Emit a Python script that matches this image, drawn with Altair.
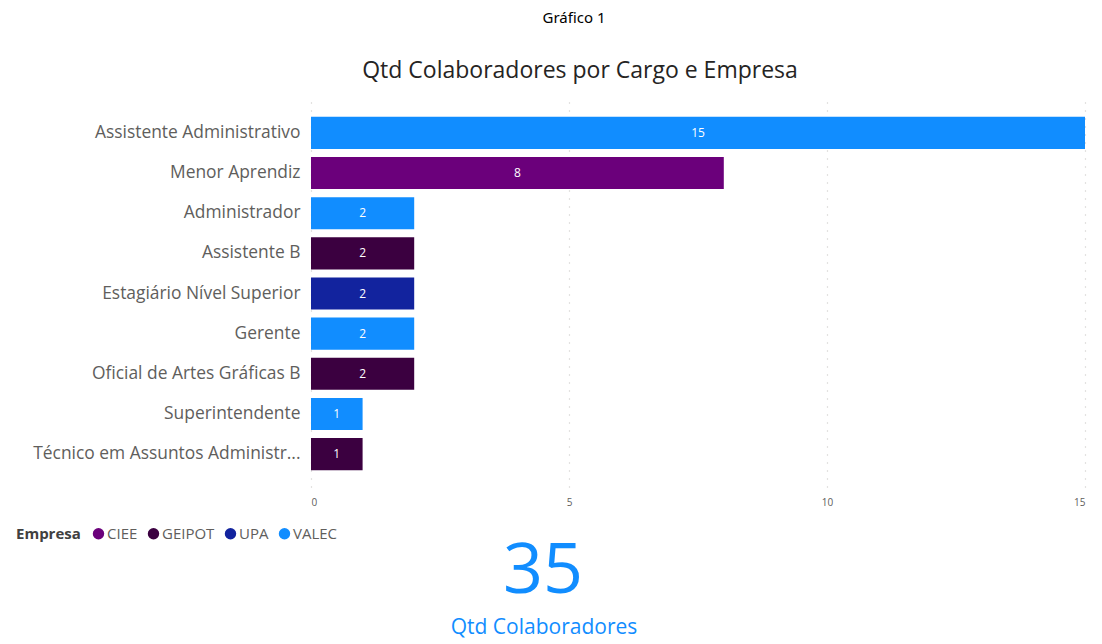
import altair as alt
import pandas as pd

cargos = [
    "Assistente Administrativo",
    "Menor Aprendiz",
    "Administrador",
    "Assistente B",
    "Estagiário Nível Superior",
    "Gerente",
    "Oficial de Artes Gráficas B",
    "Superintendente",
    "Técnico em Assuntos Administrativos",
]
empresas = ["VALEC", "CIEE", "VALEC", "GEIPOT", "UPA", "VALEC", "GEIPOT", "VALEC", "GEIPOT"]
qtd = [15, 8, 2, 2, 2, 2, 2, 1, 1]

empresa_domain = ["CIEE", "GEIPOT", "UPA", "VALEC"]
empresa_colors = ["#6B007B", "#3B0040", "#12239E", "#118DFF"]

header_text = ["Gráfico 1"]
title_text = ["Qtd Colaboradores por Cargo e Empresa"]
card_label = ["Qtd Colaboradores"]
x_ticks = [0, 5, 10, 15]
truncated_label = "Técnico em Assuntos Administr..."

FONT = "Segoe UI, Open Sans, sans-serif"

df = pd.DataFrame({"Cargo": cargos, "Empresa": empresas, "Qtd": qtd})

base = alt.Chart(df)

y_enc = alt.Y(
    "Cargo:N",
    sort=cargos,
    title=None,
    scale=alt.Scale(paddingInner=0.2, paddingOuter=0.42),
    axis=alt.Axis(
        domain=False, ticks=False, grid=False, labelFontSize=17.4,
        labelColor="#605E5C", labelFont=FONT, labelPadding=11, labelLimit=300,
        labelExpr=f"length(datum.label) > 32 ? '{truncated_label}' : datum.label",
    ),
)

x_enc = alt.X(
    "Qtd:Q",
    title=None,
    scale=alt.Scale(domain=[0, 15], nice=False),
    axis=alt.Axis(
        values=x_ticks, domain=False, ticks=False, grid=True,
        gridColor="#C8C6C4", gridDash=[1, 7], gridWidth=1.2,
        labelFontSize=10, labelColor="#605E5C", labelFont=FONT, labelPadding=10,
    ),
)

bars = base.mark_bar().encode(
    x=x_enc,
    y=y_enc,
    color=alt.Color(
        "Empresa:N",
        scale=alt.Scale(domain=empresa_domain, range=empresa_colors),
        legend=alt.Legend(
            orient="none", legendX=-295, legendY=426, direction="horizontal",
            titleOrient="left", title="Empresa", titleFontSize=15, titleFontWeight="bold",
            titleColor="#404040", titleFont=FONT, titlePadding=10,
            labelFontSize=15, labelColor="#605E5C", labelFont=FONT, labelOffset=1,
            symbolType="circle", symbolSize=130, symbolStrokeWidth=0, columnPadding=8,
        ),
    ),
)

labels = base.transform_calculate(mid="datum.Qtd / 2").mark_text(
    color="white", fontSize=12, font=FONT, baseline="middle", align="center"
).encode(
    x=alt.X("mid:Q"),
    y=alt.Y("Cargo:N", sort=cargos),
    text="Qtd:Q",
)

header = alt.Chart(pd.DataFrame({"t": header_text})).mark_text(
    fontSize=15, font="Noto Sans", color="#000000", baseline="top", align="center"
).encode(text="t:N", x=alt.value(263), y=alt.value(-89))

title = alt.Chart(pd.DataFrame({"t": title_text})).mark_text(
    fontSize=23, font=FONT, color="#252423", baseline="middle", align="center"
).encode(text="t:N", x=alt.value(269), y=alt.value(-29))

total = base.transform_aggregate(total="sum(Qtd)").mark_text(
    fontSize=70, font=FONT, color="#118DFF", baseline="middle", align="center"
).encode(text="total:Q", x=alt.value(232), y=alt.value(472))

card = alt.Chart(pd.DataFrame({"t": card_label})).mark_text(
    fontSize=21, font=FONT, color="#118DFF", baseline="middle", align="center"
).encode(text="t:N", x=alt.value(233), y=alt.value(528))

chart = alt.layer(bars, labels, header, title, total, card).properties(
    width=774,
    height=387,
    background="white",
    autosize=alt.AutoSizeParams(type="none"),
    padding={"left": 303, "top": 92, "right": 9, "bottom": 157},
).configure_view(stroke=None)

chart.save("out.html", embed_options={"renderer": "svg", "actions": False})
